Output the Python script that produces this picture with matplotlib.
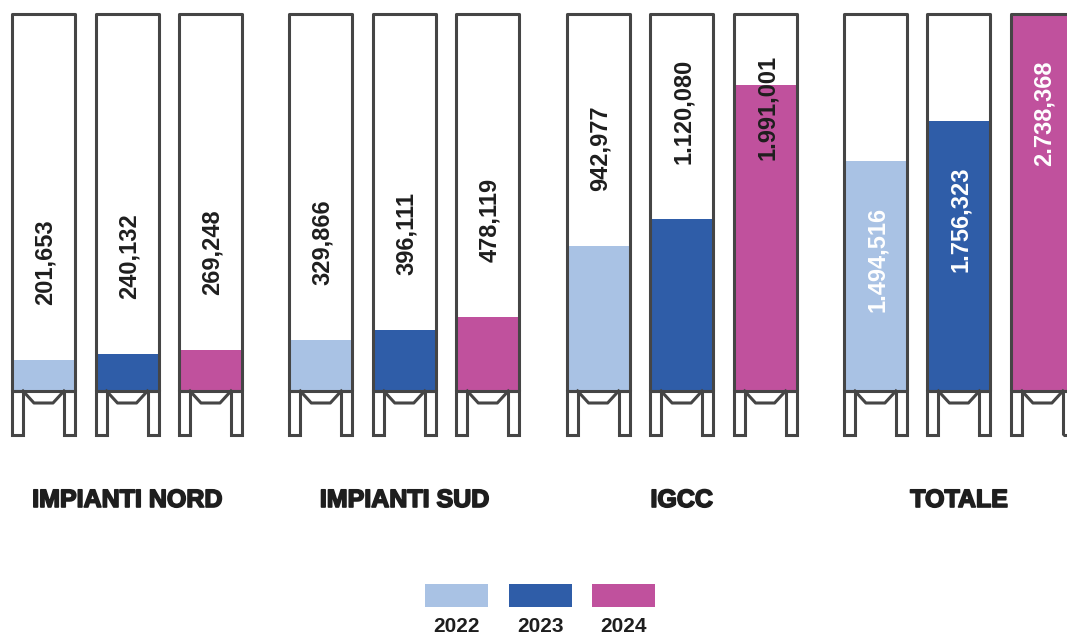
import matplotlib
matplotlib.use("Agg")
import matplotlib.pyplot as plt
import matplotlib.patheffects as pe
from matplotlib.patches import Rectangle

# dati
categorie = ["IMPIANTI NORD", "IMPIANTI SUD", "IGCC", "TOTALE"]
anni = ["2022", "2023", "2024"]
val_2022 = [201653, 329866, 942977, 1494516]
val_2023 = [240132, 396111, 1120080, 1756323]
val_2024 = [269248, 478119, 1991001, 2738368]
colori = ["#A9C2E4", "#2F5DA8", "#C0519D"]

valori = [val_2022, val_2023, val_2024]

CAP = 2450000          # capacita' del serbatoio (oltre viene tagliato)
u = CAP / 377          # valore per pixel
BORDO = "#454545"
TESTO = "#1e1e1e"


def formato(v):
    s = "{:,}".format(v)
    if s.count(",") == 2:
        s = s.replace(",", ".", 1)
    return s


fig = plt.figure(figsize=(10.67, 6.35), dpi=100)
ax = fig.add_axes([0, 0, 1, 1])
ax.set_xlim(0, 1067)
ax.set_ylim((391 - 635) * u, 391 * u)
ax.axis("off")

W = 63
for g, cat in enumerate(categorie):
    gx = 12 + 277.3 * g
    for j in range(3):
        x0 = gx + 83.5 * j
        v = valori[j][g]
        h = min(v, CAP)
        ax.bar(x0, h, width=W, align="edge", color=colori[j], zorder=1)
        ax.add_patch(Rectangle((x0, 0), W, CAP, fill=False, ec=BORDO, lw=2.2, zorder=3, joinstyle="round"))
        # supporto
        ax.add_patch(Rectangle((x0, -44 * u), 11, 44 * u, fill=False, ec=BORDO, lw=2.2, zorder=3))
        ax.add_patch(Rectangle((x0 + W - 11, -44 * u), 11, 44 * u, fill=False, ec=BORDO, lw=2.2, zorder=3))
        ax.plot([x0 + 11, x0 + 22, x0 + 41, x0 + W - 11], [0, -12 * u, -12 * u, 0], color=BORDO, lw=2.2, zorder=3)
        # etichetta
        if cat == "TOTALE":
            ax.text(x0 + W / 2 + 2, h - 46 * u, formato(v), rotation=90, ha="center", va="top",
                    color="white", fontsize=17, fontweight="bold", family="Liberation Sans", zorder=4)
        else:
            yb = min(h + 55 * u, 231 * u)
            ax.text(x0 + W / 2 + 2, yb, formato(v), rotation=90, ha="center", va="bottom",
                    color=TESTO, fontsize=17, fontweight="bold", family="Liberation Sans", zorder=4)
    ax.text(gx + 115, (391 - 500) * u, cat, ha="center", va="center", color=TESTO,
            fontsize=18, fontweight="bold", family="Liberation Sans",
            path_effects=[pe.withStroke(linewidth=1.2, foreground=TESTO)])

# legenda
for j, anno in enumerate(anni):
    lx = 425 + 83.5 * j
    ax.add_patch(Rectangle((lx, (391 - 607) * u), 63, 23 * u, color=colori[j], lw=0))
    ax.text(lx + 31.5, (391 - 626) * u, anno, ha="center", va="center", color=TESTO,
            fontsize=15, fontweight="bold", family="Liberation Sans")

fig.savefig("out.png", dpi=100, facecolor="white")
